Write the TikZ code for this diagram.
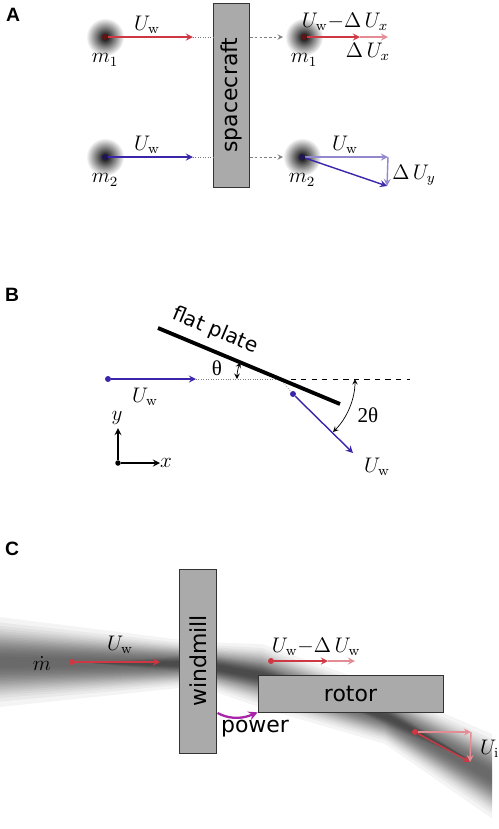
\documentclass[tikz,border=0pt]{standalone}
\usepackage{fontspec}
\setsansfont{DejaVu Sans}
\newfontfamily\greekfont{Liberation Serif}
\newfontfamily\panelfont{Liberation Sans}
\usepackage{amsmath}
\usetikzlibrary{arrows,calc,fadings}

\definecolor{windred}{RGB}{206,56,66}
\definecolor{lightred}{RGB}{228,140,148}
\definecolor{windblue}{RGB}{58,38,170}
\definecolor{lightblue}{RGB}{146,136,206}
\definecolor{darkred}{RGB}{95,20,22}
\definecolor{darkblue}{RGB}{30,22,85}
\definecolor{boxgray}{RGB}{170,170,170}
\definecolor{powercolor}{RGB}{168,36,168}
\tikzfading[name=halo fade, inner color=transparent!0, outer color=transparent!100]

\begin{document}
\begin{tikzpicture}[x=0.02cm,y=-0.02cm]
    \newcommand{\halosize}[0]{ 19 }
    \tikzstyle{dedge} = [line width=0.8pt,->,>=stealth]
    \tikzstyle{dot} = [circle,fill,inner sep=0pt,minimum size=1.2mm]
    \tikzstyle{halo} = [black,path fading=halo fade]
    \tikzstyle{block}=[
      draw=black!80,
      fill=boxgray,
      minimum height=0.73cm,
      font=\sffamily\fontsize{12.5}{15}\selectfont,
    ]
    \tikzstyle{mathlabel}=[
      font=\fontsize{12}{14}\selectfont,
    ]
    \tikzstyle{sans}=[
      font=\sffamily\fontsize{12.5}{15}\selectfont,
    ]
    \tikzstyle{panel}=[
      font=\panelfont\bfseries\fontsize{11}{13}\selectfont,
    ]
    \tikzstyle{guide}=[gray,densely dotted,thin]
    \tikzstyle{pass}=[gray,dash pattern=on 1.5pt off 1.2pt,thin,->,>=stealth]
    \tikzstyle{band}=[black,opacity=0.042]

    \useasboundingbox (0,0) rectangle (498,829);

    \node[panel] (A) at (13,15) {A};

    \fill[halo] (105,37) circle (\halosize);
    \fill[halo] (304,37) circle (\halosize);
    \fill[halo] (105,157) circle (\halosize);
    \fill[halo] (302,157) circle (\halosize);

    \node[dot,darkred] (m1 in) at (105,37) {};
    \node[dot,darkred] (m1 out) at (304,37) {};
    \node[dot,darkblue] (m2 in) at (105,157) {};
    \node[dot,darkblue] (m2 out) at (302,157) {};

    \node[block,rotate=90,minimum width=3.68cm] (spacecraft) at (231.5,95) {spacecraft};

    \coordinate (m1 tip) at (193,37);
    \coordinate (m2 tip) at (193,157);
    \coordinate (m1 pass) at (283,37);
    \coordinate (m2 pass) at (283,157);
    \coordinate (m1 slow) at (360,37);
    \coordinate (m1 full) at (388,37);
    \coordinate (m2 full) at (388,157);
    \coordinate (m2 bent) at (387,186);

    \draw[dedge,windred] (m1 in)--(m1 tip);
    \draw[guide] (m1 tip)--(m1 tip -| spacecraft.north);
    \draw[pass] (m1 in -| spacecraft.south)--(m1 pass);
    \draw[dedge,lightred] (m1 slow)--(m1 full);
    \draw[dedge,windred] (m1 out)--(m1 slow);

    \draw[dedge,windblue] (m2 in)--(m2 tip);
    \draw[guide] (m2 tip)--(m2 tip -| spacecraft.north);
    \draw[pass] (m2 in -| spacecraft.south)--(m2 pass);
    \draw[dedge,lightblue] (m2 out)--(m2 full);
    \draw[dedge,lightblue] (m2 full)--(m2 bent);
    \draw[dedge,windblue] (m2 out)--(m2 bent);

    \node[mathlabel] (m1 in speed) at (147,25) {$U_{\mathrm{w}}$};
    \node[mathlabel] (m1 in name) at (105,60) {$m_1$};
    \node[mathlabel] (m1 out speed) at (345,22) {$U_{\mathrm{w}}{-}\Delta\,U_x$};
    \node[mathlabel] (m1 out loss) at (368,52) {$\Delta\,U_x$};
    \node[mathlabel] (m1 out name) at (304,60) {$m_1$};
    \node[mathlabel] (m2 in speed) at (147,145) {$U_{\mathrm{w}}$};
    \node[mathlabel] (m2 in name) at (105,180) {$m_2$};
    \node[mathlabel] (m2 out speed) at (345,145) {$U_{\mathrm{w}}$};
    \node[mathlabel] (m2 out turn) at (414,175) {$\Delta\,U_y$};
    \node[mathlabel] (m2 out name) at (302,180) {$m_2$};

    \node[panel] (B) at (12,295) {B};

    \coordinate (plate top) at (158,328);
    \coordinate (plate bottom) at (340,404);
    \coordinate (hit) at (280,379);
    \coordinate (b tip) at (196,379);
    \coordinate (wake end) at (410,379);
    \coordinate (b out tip) at (353,453);
    \node[dot,windblue] (b in) at (108,379) {};
    \node[dot,windblue] (b out) at (293,394) {};

    \draw[guide] (b tip)--(hit);
    \draw[dashed,thin] (hit)--(wake end);
    \draw[gray,thin,densely dotted] (hit)--(b out);
    \draw[line width=2.2pt] (plate top)--(plate bottom);
    \draw[dedge,windblue] (b in)--(b tip);
    \draw[dedge,windblue] (b out)--(b out tip);
    \draw[<->,>=stealth,thin] ([shift={(180:43)}]hit) arc[start angle=180,end angle=202.7,radius=43];
    \draw[<->,>=stealth,thin] ([shift={(0:75)}]hit) arc[start angle=0,end angle=45,radius=75];

    \node[sans,rotate=-22.7,font=\sffamily\fontsize{11.5}{14}\selectfont] (plate label) at (215,331) {flat plate};
    \node[mathlabel] (theta label) at (217,368) {\greekfont θ};
    \node[mathlabel] (twotheta label) at (368,415) {\greekfont 2θ};
    \node[mathlabel] (b in speed) at (145,397) {$U_{\mathrm{w}}$};
    \node[mathlabel] (b out speed) at (377,467) {$U_{\mathrm{w}}$};

    \node[dot,black,minimum size=1.1mm] (origin) at (118,463) {};
    \coordinate (y end) at (118,428);
    \coordinate (x end) at (160,463);
    \draw[dedge,black] (origin)--(y end);
    \draw[dedge,black] (origin)--(x end);
    \node[mathlabel] (y label) at (117,418) {$y$};
    \node[mathlabel] (x label) at (166,463) {$x$};

    \node[panel] (C) at (12,549) {C};

    \begin{scope}
      \clip (0,590) -| (443,712) -| (492,829) -| cycle;
      \foreach \i in {1,...,20} {
        \pgfmathsetmacro\k{sqrt(ln(21/\i)/ln(21))}
        \fill[band] (0,{662-45*\k}) -- (198,{664-22*\k}) -- (262,{676-32*\k})
          -- (385,{716-28*\k}) -- (520,{792-46*\k}) -- (520,{792+46*\k})
          -- (385,{716+28*\k}) -- (262,{676+32*\k}) -- (198,{664+22*\k})
          -- (0,{662+45*\k}) -- cycle;
      }
      \foreach \i in {1,...,8} {
        \pgfmathsetmacro\k{sqrt(ln(9/\i)/ln(9))}
        \fill[band] (90,663) -- (198,{664-10*\k}) -- (262,{676-12*\k}) -- (330,693)
          -- (262,{676+12*\k}) -- (198,{664+10*\k}) -- cycle;
        \fill[band] (340,702) -- (390,{718-10*\k}) -- (470,760)
          -- (390,{718+10*\k}) -- cycle;
      }
    \end{scope}

    \node[block,rotate=90,minimum width=3.68cm] (windmill) at (198,661) {windmill};
    \node[block,minimum width=3.7cm,minimum height=0.74cm] (rotor) at (350.5,693.5) {rotor};

    \node[dot,windred] (c in) at (72,662) {};
    \node[dot,windred] (c mid) at (271,661) {};
    \node[dot,windred] (c out) at (415,732) {};
    \coordinate (c in tip) at (160,662);
    \coordinate (c mid slow) at (328,661);
    \coordinate (c mid full) at (355,661);
    \coordinate (c out full) at (471,732);
    \coordinate (c out bent) at (470,762);

    \draw[dedge,windred] (c in)--(c in tip);
    \draw[dedge,lightred] (c mid slow)--(c mid full);
    \draw[dedge,windred] (c mid)--(c mid slow);
    \draw[dedge,lightred] (c out)--(c out full);
    \draw[dedge,lightred] (c out full)--(c out bent);
    \draw[dedge,windred] (c out)--(c out bent);
    \draw[powercolor,line width=1.3pt,->,>=stealth] ($(windmill.south)+(1,52)$) .. controls +(15,8) and +(-12,5) .. (rotor.south west);

    \node[mathlabel] (mdot label) at (42,663) {$\dot m$};
    \node[mathlabel] (c in speed) at (120,645) {$U_{\mathrm{w}}$};
    \node[mathlabel] (c mid speed) at (316,647) {$U_{\mathrm{w}}{-}\Delta\,U_{\mathrm{w}}$};
    \node[mathlabel,anchor=west] (c out speed) at (474,749) {$U_{\mathrm{i}}$};
    \node[sans] (power label) at (255,729) {power};
\end{tikzpicture}
\end{document}
